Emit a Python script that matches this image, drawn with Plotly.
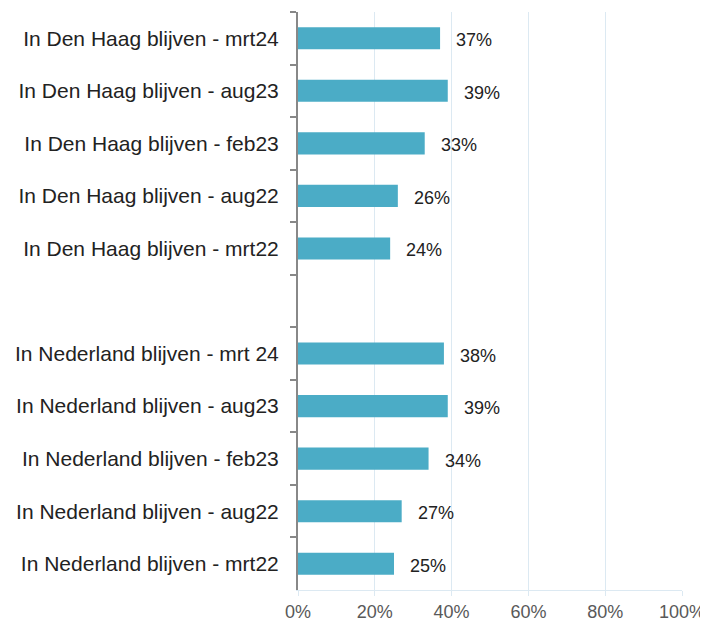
import plotly.graph_objects as go

# categories, top to bottom (blank slot separates the two groups)
categories = [
    "In Den Haag blijven - mrt24",
    "In Den Haag blijven - aug23",
    "In Den Haag blijven - feb23",
    "In Den Haag blijven - aug22",
    "In Den Haag blijven - mrt22",
    " ",
    "In Nederland blijven - mrt 24",
    "In Nederland blijven - aug23",
    "In Nederland blijven - feb23",
    "In Nederland blijven - aug22",
    "In Nederland blijven - mrt22",
]
values = [37, 39, 33, 26, 24, None, 38, 39, 34, 27, 25]
x_ticks = [0, 20, 40, 60, 80, 100]
x_tick_labels = ["0%", "20%", "40%", "60%", "80%", "100%"]

BAR = "#4BACC6"

fig = go.Figure()
fig.add_trace(go.Bar(
    x=values,
    y=categories,
    orientation="h",
    marker=dict(color=BAR, line=dict(width=0)),
    width=0.42,
    showlegend=False,
    hoverinfo="skip",
))

# value labels right of the bars
for cat, v in zip(categories, values):
    if v is None:
        continue
    fig.add_annotation(
        x=v, y=cat, text=f"{v}%", showarrow=False,
        xanchor="left", yanchor="middle", xshift=14, yshift=-2,
        font=dict(size=18, color="#222222"),
    )

# page body has an 8px margin, so margins are shifted to keep the plot in place
fig.update_layout(
    width=708, height=621,
    margin=dict(l=290, r=34, t=4, b=39, autoexpand=False),
    plot_bgcolor="white",
    paper_bgcolor="white",
    font=dict(family="Liberation Sans, Arial", color="#222222"),
)
fig.update_xaxes(
    range=[0, 100],
    tickvals=x_ticks,
    ticktext=x_tick_labels,
    showgrid=True,
    gridcolor="#DCE9F2",
    gridwidth=1,
    zeroline=False,
    showline=True,
    linecolor="#DCE9F2",
    linewidth=1,
    ticks="outside",
    ticklen=5,
    tickcolor="#DCE9F2",
    tickfont=dict(size=18, color="#595959"),
    automargin=False,
    fixedrange=True,
)
fig.update_yaxes(
    type="category",
    categoryorder="array",
    categoryarray=categories,
    autorange="reversed",
    showgrid=False,
    zeroline=False,
    showline=True,
    linecolor="#888888",
    linewidth=2,
    ticks="outside",
    tickson="boundaries",
    ticklen=6,
    tickcolor="#888888",
    tickwidth=2,
    ticklabelstandoff=13,
    tickfont=dict(size=21, color="#222222"),
    automargin=False,
    fixedrange=True,
)

fig.write_html("out.html")
